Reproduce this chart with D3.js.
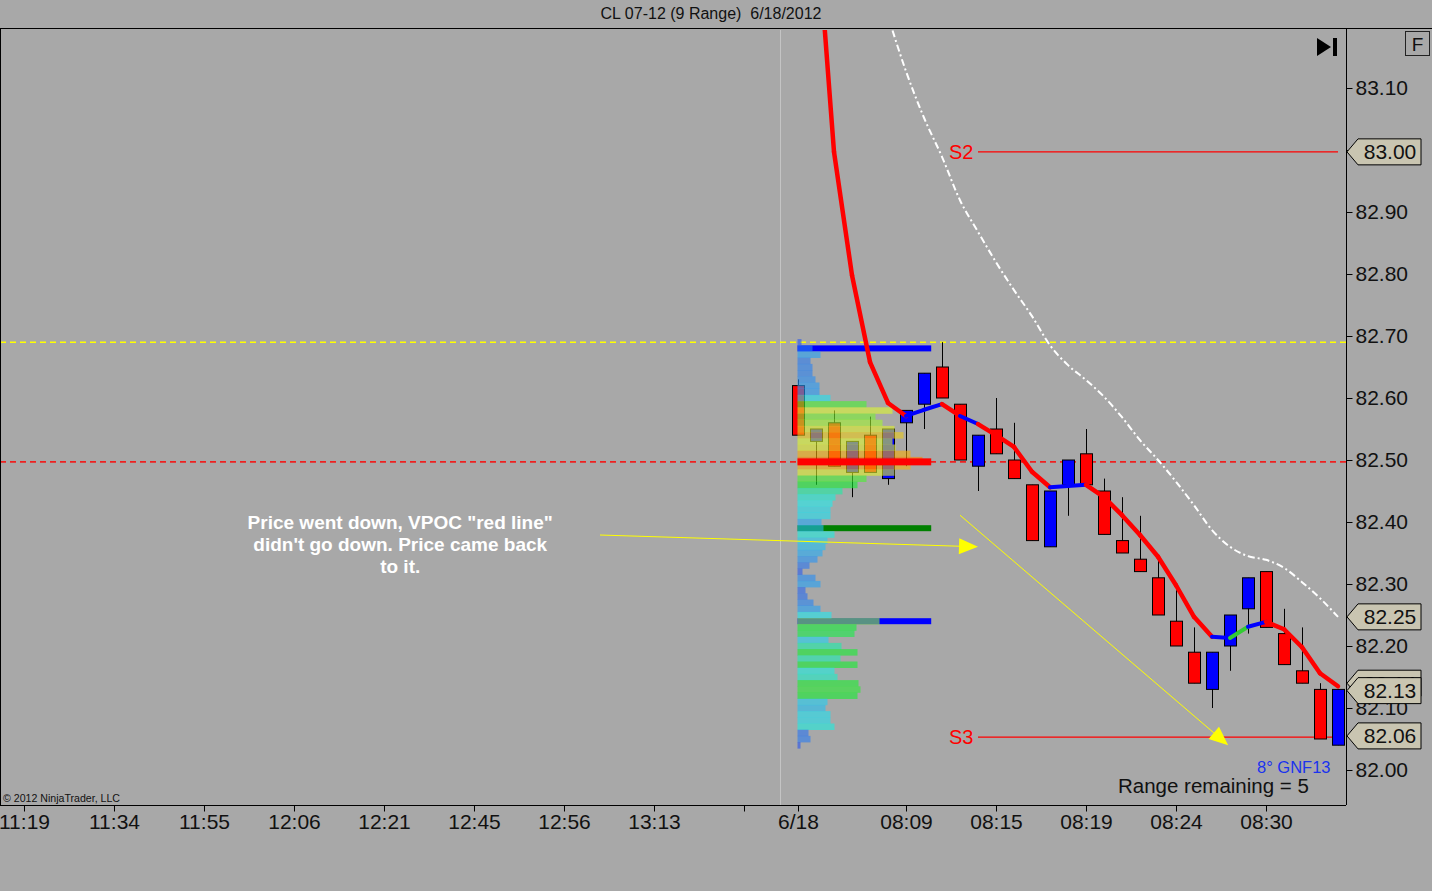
<!DOCTYPE html>
<html><head><meta charset="utf-8">
<script src="https://cdn.jsdelivr.net/npm/d3@7"></script>
<style>html,body{margin:0;padding:0;background:#a8a8a8;overflow:hidden}text{font-family:"Liberation Sans",Arial,sans-serif}</style>
</head><body><svg id="c" width="1432" height="891"></svg>
<script>
// ---------- DATA ----------
const chartTitle = "CL 07-12 (9 Range)  6/18/2012";
const priceTicks = [82.00,82.10,82.20,82.30,82.40,82.50,82.60,82.70,82.80,82.90,83.00,83.10];
const priceTickLabels = ["82.00","82.10","82.20","82.30","82.40","82.50","82.60","82.70","82.80","82.90","83.00","83.10"];
const timeTickBars = [-43,-38,-33,-28,-23,-18,-13,-8,-3,0,6,11,16,21,26];
const timeTickLabels = ["11:19","11:34","11:55","12:06","12:21","12:45","12:56","13:13","","6/18","08:09","08:15","08:19","08:24","08:30"];
const sessionBreakBar = -1;

const barIndex = [0,1,2,3,4,5,6,7,8,9,10,11,12,13,14,15,16,17,18,19,20,21,22,23,24,25,26,27,28,29,30];
const opens  = [82.62,82.53,82.56,82.48,82.54,82.47,82.56,82.59,82.65,82.59,82.49,82.55,82.50,82.46,82.36,82.46,82.51,82.45,82.37,82.34,82.31,82.24,82.19,82.13,82.20,82.26,82.32,82.22,82.16,82.13,82.04];
const highs  = [82.63,82.55,82.58,82.53,82.57,82.55,82.58,82.64,82.69,82.59,82.54,82.60,82.56,82.46,82.45,82.50,82.55,82.47,82.44,82.41,82.34,82.29,82.23,82.19,82.25,82.31,82.32,82.26,82.23,82.14,82.13];
const lows   = [82.54,82.46,82.49,82.44,82.48,82.46,82.49,82.55,82.60,82.50,82.45,82.51,82.47,82.37,82.36,82.41,82.46,82.38,82.35,82.32,82.25,82.20,82.14,82.10,82.16,82.22,82.23,82.17,82.14,82.05,82.04];
const closes = [82.54,82.55,82.49,82.53,82.48,82.55,82.58,82.64,82.60,82.50,82.54,82.51,82.47,82.37,82.45,82.50,82.46,82.38,82.35,82.32,82.25,82.20,82.14,82.19,82.25,82.31,82.23,82.17,82.14,82.05,82.13];

// moving average (segment colour = colour of the segment ending at that bar)
const maValues = [null,83.381,82.997,82.798,82.658,82.592,82.571,82.581,82.590,82.571,82.558,82.540,82.521,82.481,82.456,82.458,82.460,82.440,82.411,82.379,82.344,82.298,82.247,82.215,82.213,82.231,82.239,82.227,82.198,82.156,82.135];
const maColors = ["","","r","r","r","r","r","b","b","r","b","r","r","r","r","b","b","r","r","r","r","r","r","r","b","g","b","r","r","r","r"];

// upper band (dash-dot white), from bar 5
const bandBars   = [5,6,7,8,9,10,11,12,13,14,15,16,17,18,19,20,21,22,23,24,25,26,27,28,29,30];
const bandValues = [83.216,83.127,83.052,82.989,82.919,82.868,82.819,82.774,82.732,82.685,82.653,82.629,82.602,82.569,82.532,82.500,82.465,82.427,82.387,82.360,82.345,82.339,82.326,82.303,82.277,82.247];

// volume profile
const profilePrices = [82.69,82.68,82.67,82.66,82.65,82.64,82.63,82.62,82.61,82.60,82.59,82.58,82.57,82.56,82.55,82.54,82.53,82.52,82.51,82.50,82.49,82.48,82.47,82.46,82.45,82.44,82.43,82.42,82.41,82.40,82.39,82.38,82.37,82.36,82.35,82.34,82.33,82.32,82.31,82.30,82.29,82.28,82.27,82.26,82.25,82.24,82.23,82.22,82.21,82.20,82.19,82.18,82.17,82.16,82.15,82.14,82.13,82.12,82.11,82.10,82.09,82.08,82.07,82.06,82.05,82.04];
const profileVolumes = [4,15,23,13,15,15,18,22,22,33,69,95,78,85,97,106,95,98,113,125,113,97,69,60,45,38,35,33,33,24,26,37,30,28,25,20,12,5,18,23,8,10,16,23,34,82,59,57,31,44,60,43,60,37,40,61,63,60,30,28,33,33,37,11,13,3];
const profileLevels = [
  {price:82.68, color:"#0000ff"},
  {price:82.39, color:"#008000"},
  {price:82.24, color:"#0000ff"}
];
const vpocPrice = 82.497;
const yellowLinePrice = 82.69;

const pivotNames  = ["S2","S3"];
const pivotPrices = [82.997, 82.053];

const markerLabels = ["83.00","82.25","82.14","82.13","82.06"];
const markerPrices = [82.997, 82.247, 82.140, 82.128, 82.055];

const annotationLines = ["Price went down, VPOC \"red line\"", "didn't go down. Price came back", "to it."];
const arrows = [
  {from:[-11, 82.379], to:[10, 82.360]},
  {from:[9, 82.411],  to:[23.9, 82.040]}
];

// ---------- LAYOUT ----------
const W = 1432, H = 891;
const plot = {left:0, top:28, right:1346, bottom:805};
const svg = d3.select("#c");
svg.append("rect").attr("width",W).attr("height",H).attr("fill","#a8a8a8");

const x = d3.scaleLinear().domain([-44.333, 30.444]).range([plot.left, plot.right]);
const y = d3.scaleLinear().domain([82.00, 83.10]).range([770, 88]);

const defs = svg.append("defs");
defs.append("clipPath").attr("id","clip").append("rect")
  .attr("x",plot.left+1).attr("y",plot.top+2).attr("width",plot.right-plot.left-1).attr("height",plot.bottom-plot.top-2);

// title
svg.append("text").attr("x",711).attr("y",19).attr("text-anchor","middle")
  .attr("font-size",16).attr("fill","#111").style("white-space","pre").text(chartTitle);

const g = svg.append("g").attr("clip-path","url(#clip)");

// session break
g.append("line").attr("x1",x(sessionBreakBar)+0.5).attr("x2",x(sessionBreakBar)+0.5)
  .attr("y1",plot.top).attr("y2",plot.bottom).attr("stroke","#c4c4c4").attr("stroke-width",1);

// yellow dashed & red dashed lines
g.append("line").attr("x1",plot.left).attr("x2",plot.right)
  .attr("y1",y(yellowLinePrice)).attr("y2",y(yellowLinePrice))
  .attr("stroke","#ffff00").attr("stroke-width",1.6).attr("stroke-dasharray","6,4");
g.append("line").attr("x1",plot.left).attr("x2",plot.right)
  .attr("y1",y(vpocPrice)).attr("y2",y(vpocPrice))
  .attr("stroke","#ee2020").attr("stroke-width",1.8).attr("stroke-dasharray","6,4");

// pivot lines
pivotNames.forEach((n,i)=>{
  const yy = y(pivotPrices[i]);
  g.append("line").attr("x1",x(10)).attr("x2",x(30)).attr("y1",yy).attr("y2",yy)
    .attr("stroke","#ff0000").attr("stroke-width",1.3);
  g.append("text").attr("x",x(9.75)).attr("y",yy+7).attr("text-anchor","end")
    .attr("font-size",20).attr("fill","#ff0000").text(n);
});

// profile levels (under the profile)
const profLeft = x(0) - 0.5;
profileLevels.forEach(l=>{
  g.append("rect").attr("x",profLeft).attr("y",y(l.price)-3).attr("width",x(7.4)-profLeft).attr("height",6)
    .attr("fill",l.color);
});

// candles
const cw = 13;
const candle = g.append("g").selectAll("g").data(barIndex).join("g");
candle.append("line").attr("x1",d=>Math.round(x(d))+0.5).attr("x2",d=>Math.round(x(d))+0.5)
  .attr("y1",d=>y(highs[d])).attr("y2",d=>y(lows[d])).attr("stroke","#000").attr("stroke-width",1);
candle.append("rect")
  .attr("x",d=>Math.round(x(d))-6+0.5).attr("width",cw-1)
  .attr("y",d=>y(Math.max(opens[d],closes[d])))
  .attr("height",d=>Math.max(1,y(Math.min(opens[d],closes[d]))-y(Math.max(opens[d],closes[d]))))
  .attr("fill",d=>closes[d]>=opens[d]?"#0000ff":"#ff0000")
  .attr("stroke","#000").attr("stroke-width",1);

// volume profile
const volLen = d3.scaleLinear().domain([0,125]).range([0,125]);
const volColor = d3.scaleLinear().domain([0,10,22,35,60,95,118])
  .range(["#2648ee","#2a70f0","#269bf8","#1eeeee","#16ee30","#ddf830","#ff9b00"]);
const rowH = y(82.00)-y(82.01);
g.append("g").selectAll("rect").data(profilePrices).join("rect")
  .attr("x",profLeft).attr("y",d=>y(d)-rowH/2).attr("height",rowH+0.3)
  .attr("width",(d,i)=>volLen(profileVolumes[i]))
  .attr("fill",(d,i)=>volColor(profileVolumes[i])).attr("opacity",0.6);

// VPOC thick
g.append("rect").attr("x",profLeft).attr("y",y(vpocPrice)-3.5).attr("width",x(7.4)-profLeft).attr("height",7)
  .attr("fill","#ff0000");

// band line
g.append("path").datum(bandBars)
  .attr("d",d3.line().x(d=>x(d)).y((d,i)=>y(bandValues[i])).curve(d3.curveMonotoneX))
  .attr("fill","none").attr("stroke","#ffffff").attr("stroke-width",2)
  .attr("stroke-dasharray","7,3,2,3");

// MA line segments
const colMap = {r:"#ff0000", b:"#0000ff", g:"#33cc33"};
for (let i=1;i<barIndex.length;i++){
  if (maValues[i-1]==null || maValues[i]==null) continue;
  g.append("line").attr("x1",x(i-1)).attr("y1",y(maValues[i-1])).attr("x2",x(i)).attr("y2",y(maValues[i]))
    .attr("stroke",colMap[maColors[i]]).attr("stroke-width",maColors[i]==="r"?4.5:4).attr("stroke-linecap","round");
}

// arrows
arrows.forEach(a=>{
  const x1=x(a.from[0]), y1=y(a.from[1]), x2=x(a.to[0]), y2=y(a.to[1]);
  const ang=Math.atan2(y2-y1,x2-x1), L=19, Wd=8;
  const bx=x2-L*Math.cos(ang), by=y2-L*Math.sin(ang);
  g.append("line").attr("x1",x1).attr("y1",y1).attr("x2",bx).attr("y2",by)
    .attr("stroke","#ffff00").attr("stroke-width",1);
  const p=[[x2,y2],[bx+Wd*Math.sin(ang),by-Wd*Math.cos(ang)],[bx-Wd*Math.sin(ang),by+Wd*Math.cos(ang)]];
  g.append("polygon").attr("points",p.map(q=>q.join(",")).join(" ")).attr("fill","#ffff00");
});

// annotation text
const ann = svg.append("text").attr("text-anchor","middle").attr("font-size",19).attr("font-weight","bold").attr("fill","#ffffff");
annotationLines.forEach((t,i)=>{
  ann.append("tspan").attr("x",x(-22.1)).attr("y",y(82.398)+6+i*22).text(t);
});

// frame
svg.append("line").attr("x1",0).attr("x2",W).attr("y1",plot.top+0.5).attr("y2",plot.top+0.5).attr("stroke","#000");
svg.append("line").attr("x1",0.5).attr("x2",0.5).attr("y1",plot.top).attr("y2",plot.bottom).attr("stroke","#000");
svg.append("line").attr("x1",plot.right+0.5).attr("x2",plot.right+0.5).attr("y1",plot.top).attr("y2",plot.bottom).attr("stroke","#000");
svg.append("line").attr("x1",0).attr("x2",plot.right).attr("y1",plot.bottom+0.5).attr("y2",plot.bottom+0.5).attr("stroke","#000");

// y axis
const yAxis = d3.axisRight(y).tickValues(priceTicks).tickFormat((d,i)=>priceTickLabels[i]).tickSize(6).tickPadding(3);
const ya = svg.append("g").attr("transform",`translate(${plot.right+0.5},0)`).call(yAxis);
ya.select(".domain").remove();
ya.selectAll("text").attr("font-size",21).attr("fill","#111").attr("font-family","Liberation Sans, Arial, sans-serif");
ya.selectAll("line").attr("stroke","#000");

// x axis
const xAxis = d3.axisBottom(x).tickValues(timeTickBars).tickFormat((d,i)=>timeTickLabels[i]).tickSize(6).tickPadding(3);
const xa = svg.append("g").attr("transform",`translate(0,${plot.bottom+0.5})`).call(xAxis);
xa.select(".domain").remove();
xa.selectAll("text").attr("font-size",21).attr("fill","#111").attr("font-family","Liberation Sans, Arial, sans-serif");
xa.selectAll("line").attr("stroke","#000");

// price markers
markerLabels.forEach((lab,i)=>{
  const yy = y(markerPrices[i]);
  const xl = plot.right+1, h=13;
  svg.append("path").attr("d",`M${xl},${yy} L${xl+11},${yy-h} L${xl+74},${yy-h} L${xl+74},${yy+h} L${xl+11},${yy+h} Z`)
    .attr("fill","#c9c5b1").attr("stroke","#000").attr("stroke-width",1);
  svg.append("text").attr("x",xl+43).attr("y",yy+7.5).attr("text-anchor","middle")
    .attr("font-size",21).attr("fill","#111").text(lab);
});

// top-right controls
svg.append("path").attr("d","M1317,38 L1317,56 L1331,47 Z").attr("fill","#000");
svg.append("rect").attr("x",1333).attr("y",38).attr("width",4).attr("height",18).attr("fill","#000");
svg.append("rect").attr("x",1405.5).attr("y",31.5).attr("width",24).attr("height",24).attr("fill","none").attr("stroke","#222");
svg.append("text").attr("x",1417.5).attr("y",51).attr("text-anchor","middle").attr("font-size",19).attr("fill","#111").text("F");

// bottom texts
svg.append("text").attr("x",1257).attr("y",773).attr("font-size",16.5).attr("fill","#1a33ee").text("8° GNF13");
svg.append("text").attr("x",1118).attr("y",793).attr("font-size",20.5).attr("fill","#111").text("Range remaining = 5");
svg.append("text").attr("x",3).attr("y",802).attr("font-size",11).attr("fill","#111")
  .attr("textLength",117).attr("lengthAdjust","spacingAndGlyphs").text("© 2012 NinjaTrader, LLC");
</script></body></html>
